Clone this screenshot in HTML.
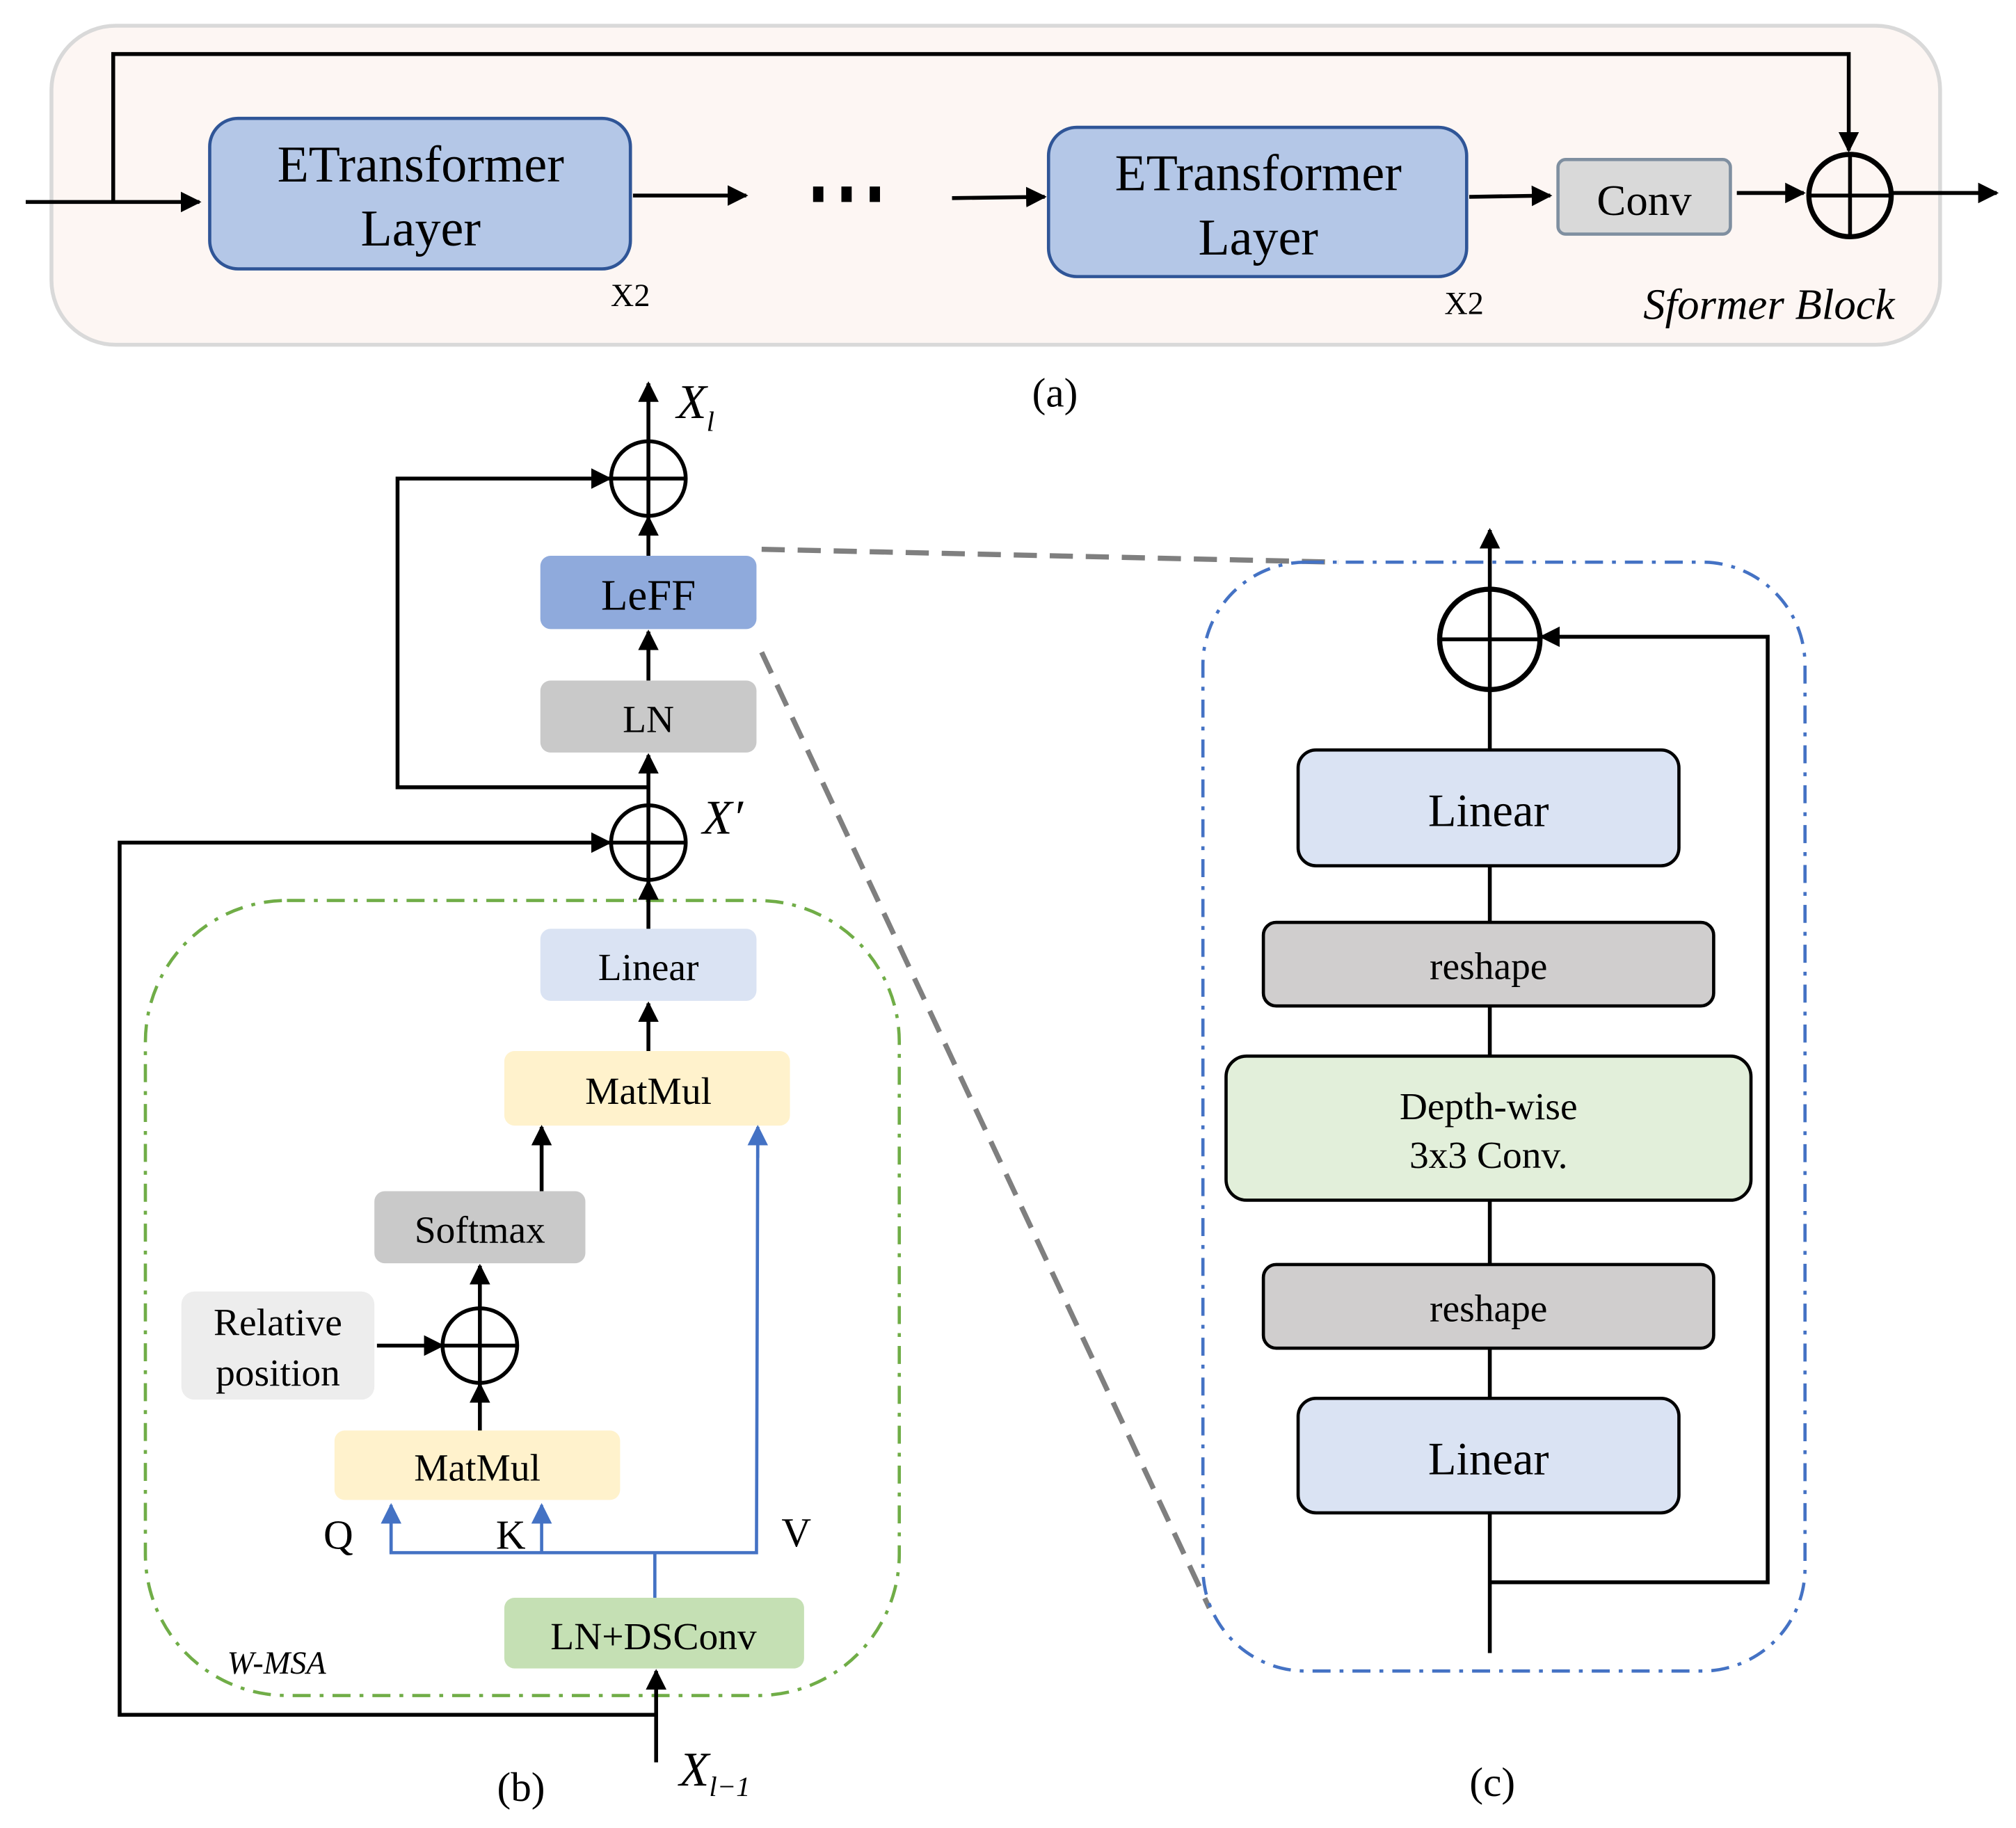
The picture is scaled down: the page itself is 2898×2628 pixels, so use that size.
<!DOCTYPE html>
<html><head><meta charset="utf-8"><style>html,body{margin:0;padding:0;background:#fff}svg{display:block}</style></head>
<body>
<svg width="2898" height="2628" viewBox="0 0 1567 1421" xmlns="http://www.w3.org/2000/svg" font-family="Liberation Serif, serif">
<defs>
<marker id="ab" viewBox="0 0 10 10" refX="9" refY="5" markerWidth="16" markerHeight="16" orient="auto" markerUnits="userSpaceOnUse"><path d="M0,0 L10,5 L0,10 z" fill="#4472c4"/></marker>
<marker id="k" viewBox="0 0 10 10" refX="9" refY="5" markerWidth="16" markerHeight="16" orient="auto" markerUnits="userSpaceOnUse"><path d="M0,0 L10,5 L0,10 z" fill="#000"/></marker>
</defs>
<!-- (a) -->
<rect x="40" y="20" width="1468" height="248" rx="50" fill="#fdf6f3" stroke="#d9d9d9" stroke-width="3"/>
<g stroke="#000" stroke-width="3" fill="none">
<line x1="20" y1="157" x2="155" y2="157" marker-end="url(#k)"/>
<polyline points="88,157 88,42 1437,42 1437,117" marker-end="url(#k)"/>
<line x1="492" y1="152" x2="580" y2="152" marker-end="url(#k)"/>
<line x1="740" y1="154" x2="812" y2="153" marker-end="url(#k)"/>
<line x1="1142" y1="153" x2="1205" y2="152" marker-end="url(#k)"/>
<line x1="1350" y1="150" x2="1402" y2="150" marker-end="url(#k)"/>
<line x1="1470" y1="150" x2="1552" y2="150" marker-end="url(#k)"/>
<circle cx="1438" cy="152" r="32" stroke-width="4"/>
<line x1="1406" y1="152" x2="1470" y2="152"/><line x1="1438" y1="120" x2="1438" y2="184"/>
</g>
<rect x="163" y="92" width="327" height="117" rx="22" fill="#b4c7e7" stroke="#2f5597" stroke-width="2.5"/>
<text x="327" y="141" font-size="40" text-anchor="middle">ETransformer</text>
<text x="327" y="191" font-size="40" text-anchor="middle">Layer</text>
<text x="490" y="238" font-size="25" text-anchor="middle">X2</text>
<g fill="#000"><rect x="632" y="145" width="8" height="12"/><rect x="654" y="145" width="8" height="12"/><rect x="676" y="145" width="8" height="12"/></g>
<rect x="815" y="99" width="325" height="116" rx="22" fill="#b4c7e7" stroke="#2f5597" stroke-width="2.5"/>
<text x="978" y="148" font-size="40" text-anchor="middle">ETransformer</text>
<text x="978" y="198" font-size="40" text-anchor="middle">Layer</text>
<text x="1138" y="244" font-size="25" text-anchor="middle">X2</text>
<rect x="1211" y="124" width="134" height="58" rx="6" fill="#d9d9d9" stroke="#7f8fa0" stroke-width="2.5"/>
<text x="1278" y="167" font-size="34" text-anchor="middle">Conv</text>
<text x="1375" y="248" font-size="34" font-style="italic" text-anchor="middle">Sformer Block</text>
<text x="820" y="316" font-size="32" text-anchor="middle">(a)</text>
<!-- dashed zoom lines -->
<g stroke="#7f7f7f" stroke-width="4" stroke-dasharray="18 10" fill="none">
<line x1="592" y1="427" x2="1040" y2="437"/>
<line x1="592" y1="507" x2="940" y2="1250"/>
</g>
<!-- (b) -->
<rect x="113" y="700" width="586" height="618" rx="110" fill="none" stroke="#70ad47" stroke-width="2.5" stroke-dasharray="14 7 3 7"/>
<rect x="420" y="432" width="168" height="57" rx="8" fill="#8faadc"/>
<text x="504" y="474" font-size="34" text-anchor="middle">LeFF</text>
<rect x="420" y="529" width="168" height="56" rx="8" fill="#c9c9c9"/>
<text x="504" y="569" font-size="30" text-anchor="middle">LN</text>
<rect x="420" y="722" width="168" height="56" rx="8" fill="#dae3f3"/>
<text x="504" y="762" font-size="30" text-anchor="middle">Linear</text>
<rect x="392" y="817" width="222" height="58" rx="8" fill="#fff2cc"/>
<text x="504" y="858" font-size="30" text-anchor="middle">MatMul</text>
<rect x="291" y="926" width="164" height="56" rx="8" fill="#c9c9c9"/>
<text x="373" y="966" font-size="30" text-anchor="middle">Softmax</text>
<rect x="141" y="1004" width="150" height="84" rx="10" fill="#ededed"/>
<text x="216" y="1038" font-size="30" text-anchor="middle">Relative</text>
<text x="216" y="1077" font-size="30" text-anchor="middle">position</text>
<rect x="260" y="1112" width="222" height="54" rx="8" fill="#fff2cc"/>
<text x="371" y="1151" font-size="30" text-anchor="middle">MatMul</text>
<rect x="392" y="1242" width="233" height="55" rx="8" fill="#c5e0b4"/>
<text x="508" y="1282" font-size="30" text-anchor="middle">LN+DSConv</text>
<g stroke="#000" stroke-width="3" fill="none">
<line x1="504" y1="342" x2="504" y2="298" marker-end="url(#k)"/>
<circle cx="504" cy="372" r="29"/><line x1="475" y1="372" x2="533" y2="372"/><line x1="504" y1="343" x2="504" y2="401"/>
<polyline points="504,612 309,612 309,372 474,372" marker-end="url(#k)"/>
<line x1="504" y1="432" x2="504" y2="402" marker-end="url(#k)"/>
<line x1="504" y1="529" x2="504" y2="491" marker-end="url(#k)"/>
<circle cx="504" cy="655" r="29"/><line x1="475" y1="655" x2="533" y2="655"/><line x1="504" y1="626" x2="504" y2="684"/>
<line x1="504" y1="626" x2="504" y2="587" marker-end="url(#k)"/>
<polyline points="510,1333 93,1333 93,655 474,655" marker-end="url(#k)"/>
<line x1="504" y1="722" x2="504" y2="685" marker-end="url(#k)"/>
<line x1="504" y1="817" x2="504" y2="780" marker-end="url(#k)"/>
<line x1="421" y1="926" x2="421" y2="876" marker-end="url(#k)"/>
<line x1="293" y1="1046" x2="344" y2="1046" marker-end="url(#k)"/>
<circle cx="373" cy="1046" r="29"/><line x1="344" y1="1046" x2="402" y2="1046"/><line x1="373" y1="1017" x2="373" y2="1075"/>
<line x1="373" y1="1017" x2="373" y2="984" marker-end="url(#k)"/>
<line x1="373" y1="1112" x2="373" y2="1076" marker-end="url(#k)"/>
<line x1="510" y1="1370" x2="510" y2="1299" marker-end="url(#k)"/>
</g>
<g stroke="#4472c4" stroke-width="2.5" fill="none">
<polyline points="304,1170 304,1207 588,1207 589,876" />
<line x1="304" y1="1207" x2="304" y2="1170" marker-end="url(#ab)"/>
<line x1="421" y1="1207" x2="421" y2="1170" marker-end="url(#ab)"/>
<line x1="589" y1="900" x2="589" y2="876" marker-end="url(#ab)"/>
<line x1="509" y1="1242" x2="509" y2="1207"/>
</g>
<text x="263" y="1204" font-size="32" text-anchor="middle">Q</text>
<text x="397" y="1204" font-size="32" text-anchor="middle">K</text>
<text x="619" y="1202" font-size="32" text-anchor="middle">V</text>
<text x="215" y="1301" font-size="25" font-style="italic" text-anchor="middle">W-MSA</text>
<text x="526" y="325" font-size="38" font-style="italic">X<tspan font-size="22" dy="10">l</tspan></text>
<text x="546" y="648" font-size="38" font-style="italic">X′</text>
<text x="528" y="1388" font-size="38" font-style="italic">X<tspan font-size="22" dy="8">l−1</tspan></text>
<text x="405" y="1400" font-size="32" text-anchor="middle">(b)</text>
<!-- (c) -->
<rect x="935" y="437" width="468" height="862" rx="80" fill="none" stroke="#4472c4" stroke-width="2.5" stroke-dasharray="14 7 3 7"/>
<g stroke="#000" stroke-width="3" fill="none">
<line x1="1158" y1="1285" x2="1158" y2="412" marker-end="url(#k)"/>
<circle cx="1158" cy="497" r="39" stroke-width="4"/><line x1="1119" y1="497" x2="1197" y2="497"/>
<polyline points="1158,1230 1374,1230 1374,495 1198,495" marker-end="url(#k)"/>
</g>
<g stroke="#000" stroke-width="2.5">
<rect x="1009" y="583" width="296" height="90" rx="14" fill="#dae3f3"/>
<rect x="982" y="717" width="350" height="65" rx="10" fill="#d0cece"/>
<rect x="953" y="821" width="408" height="112" rx="16" fill="#e2efda"/>
<rect x="982" y="983" width="350" height="65" rx="10" fill="#d0cece"/>
<rect x="1009" y="1087" width="296" height="89" rx="14" fill="#dae3f3"/>
</g>
<text x="1157" y="642" font-size="36" text-anchor="middle">Linear</text>
<text x="1157" y="761" font-size="30" text-anchor="middle">reshape</text>
<text x="1157" y="870" font-size="30" text-anchor="middle">Depth-wise</text>
<text x="1157" y="908" font-size="30" text-anchor="middle">3x3 Conv.</text>
<text x="1157" y="1027" font-size="30" text-anchor="middle">reshape</text>
<text x="1157" y="1146" font-size="36" text-anchor="middle">Linear</text>
<text x="1160" y="1396" font-size="32" text-anchor="middle">(c)</text>
</svg>
</body></html>
